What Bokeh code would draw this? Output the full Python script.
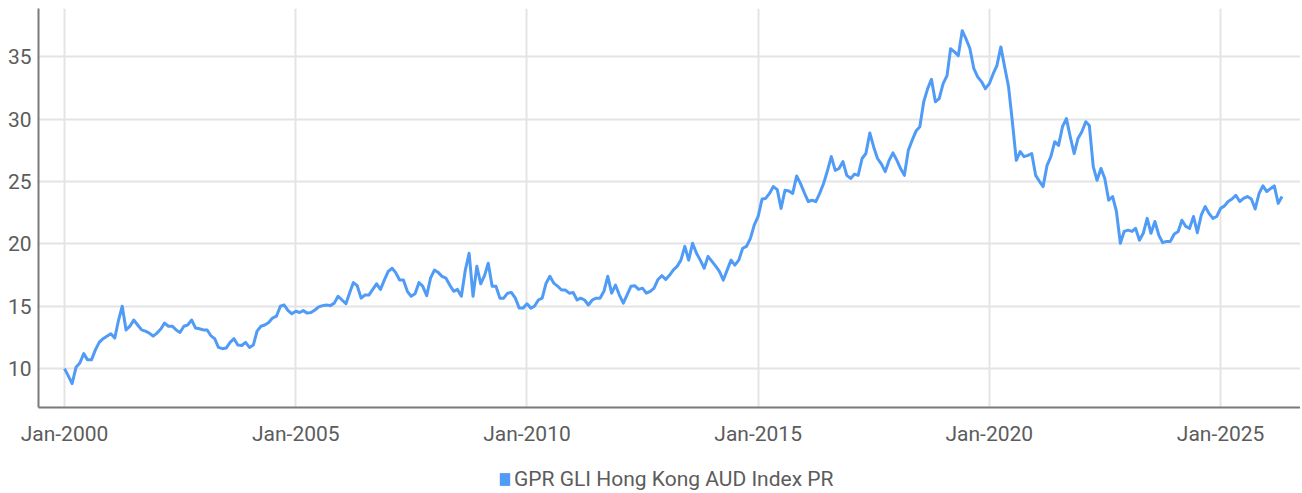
import pandas as pd
from bokeh.plotting import figure
from bokeh.layouts import column
from bokeh.models import (ColumnDataSource, Range1d, FixedTicker,
                          DatetimeTickFormatter, Legend, LegendItem)
from bokeh.embed import file_html
from bokeh.resources import INLINE

series_name = "GPR GLI Hong Kong AUD Index PR"
start_month = "2000-01-01"
y_ticks = [10, 15, 20, 25, 30, 35]
x_tick_years = [2000, 2005, 2010, 2015, 2020, 2025]

# monthly index levels
values_2000_2004 = [
    10.0, 9.4, 8.8, 10.1, 10.45, 11.2, 10.7, 10.7, 11.5, 12.1, 12.4, 12.6,
    12.8, 12.45, 13.8, 15.0, 13.1, 13.4, 13.9, 13.5, 13.1, 13.0, 12.85, 12.6,
    12.85, 13.2, 13.65, 13.4, 13.4, 13.1, 12.9, 13.4, 13.5, 13.9, 13.25, 13.2,
    13.1, 13.1, 12.65, 12.4, 11.7, 11.6, 11.65, 12.1, 12.4, 11.9, 11.85, 12.1,
    11.7, 11.9, 13.0, 13.4, 13.5, 13.7, 14.05, 14.2, 15.0, 15.1, 14.65, 14.4,
]
values_2005_2009 = [
    14.6, 14.5, 14.65, 14.45, 14.5, 14.7, 14.95, 15.05, 15.1, 15.05, 15.25, 15.8,
    15.5, 15.2, 16.05, 16.9, 16.65, 15.65, 15.9, 15.9, 16.35, 16.8, 16.35, 17.1,
    17.8, 18.05, 17.7, 17.1, 17.1, 16.2, 15.8, 16.0, 16.9, 16.6, 15.85, 17.25,
    17.9, 17.7, 17.4, 17.25, 16.7, 16.2, 16.35, 15.8, 17.9, 19.25, 15.8, 18.2,
    16.8, 17.5, 18.45, 16.6, 16.6, 15.65, 15.65, 16.05, 16.1, 15.65, 14.85, 14.85,
]
values_2010_2014 = [
    15.2, 14.85, 15.0, 15.5, 15.65, 16.85, 17.4, 16.85, 16.6, 16.3, 16.3, 16.05,
    16.1, 15.5, 15.65, 15.5, 15.1, 15.5, 15.65, 15.65, 16.2, 17.4, 16.05, 16.7,
    15.9, 15.25, 15.9, 16.6, 16.65, 16.35, 16.45, 16.05, 16.2, 16.45, 17.15, 17.45,
    17.15, 17.5, 17.9, 18.2, 18.7, 19.8, 18.7, 20.05, 19.25, 18.7, 18.05, 19.0,
    18.6, 18.2, 17.8, 17.1, 17.9, 18.7, 18.3, 18.7, 19.65, 19.8, 20.45, 21.5,
]
values_2015_2019 = [
    22.2, 23.6, 23.65, 24.05, 24.6, 24.35, 22.85, 24.3, 24.25, 24.05, 25.45, 24.85,
    24.1, 23.4, 23.5, 23.4, 24.05, 24.85, 25.85, 27.0, 25.9, 26.05, 26.6, 25.5,
    25.25, 25.6, 25.5, 26.85, 27.25, 28.9, 27.8, 26.85, 26.4, 25.8, 26.7, 27.3,
    26.7, 26.0, 25.5, 27.5, 28.3, 29.05, 29.4, 31.4, 32.45, 33.2, 31.4, 31.65,
    32.85, 33.5, 35.65, 35.4, 35.1, 37.1, 36.45, 35.65, 34.05, 33.4, 33.0, 32.45,
]
values_2020_2024 = [
    32.85, 33.65, 34.3, 35.8, 34.2, 32.6, 29.8, 26.7, 27.4, 27.0, 27.1, 27.25,
    25.5, 25.0, 24.6, 26.3, 27.0, 28.2, 27.9, 29.4, 30.05, 28.6, 27.25, 28.45,
    29.0, 29.8, 29.5, 26.2, 25.1, 26.05, 25.25, 23.5, 23.8, 22.6, 20.05, 21.0,
    21.1, 21.0, 21.25, 20.3, 20.85, 22.05, 20.85, 21.8, 20.7, 20.1, 20.2, 20.2,
    20.8, 21.0, 21.9, 21.4, 21.25, 22.2, 20.9, 22.3, 23.0, 22.45, 22.05, 22.2,
]
values_2025_2026 = [
    22.85, 23.05, 23.4, 23.6, 23.9, 23.4, 23.65, 23.8, 23.6, 22.8, 24.05, 24.65,
    24.2, 24.45, 24.65, 23.25, 23.8,
]

values = (values_2000_2004 + values_2005_2009 + values_2010_2014 +
          values_2015_2019 + values_2020_2024 + values_2025_2026)
dates = pd.date_range(start_month, periods=len(values), freq="MS")
source = ColumnDataSource(data=dict(date=dates, value=values))

BLUE = "#4f9bf6"
TEXT = "#5c5c5c"
AXIS = "#7a7a7a"
GRID = "#e4e4e4"
FONT = "Roboto"
FSIZE = "21px"

origin = pd.Timestamp(start_month)
x_start = origin - pd.Timedelta(days=205.4)
x_end = origin + pd.Timedelta(days=9763)

p = figure(width=1300, height=448, x_axis_type="datetime",
           x_range=Range1d(x_start, x_end), y_range=Range1d(6.88, 38.88),
           output_backend="svg", toolbar_location=None,
           min_border_left=38, min_border_right=0, min_border_top=8,
           min_border_bottom=40)
p.outline_line_color = None
p.background_fill_color = "white"
p.border_fill_color = "white"

line = p.line("date", "value", source=source, line_color=BLUE,
              line_width=3, line_join="round")

x_ticks = [pd.Timestamp(f"{y}-01-01").timestamp() * 1000 for y in x_tick_years]
p.xaxis.ticker = FixedTicker(ticks=x_ticks)
fmt = "%b-%Y"
p.xaxis.formatter = DatetimeTickFormatter(years=fmt, months=fmt, days=fmt,
                                          hours=fmt, minutes=fmt, seconds=fmt,
                                          milliseconds=fmt, microseconds=fmt)
p.yaxis.ticker = FixedTicker(ticks=y_ticks)

for ax in (p.xaxis, p.yaxis):
    ax.axis_line_color = AXIS
    ax.axis_line_width = 2
    ax.major_tick_line_color = None
    ax.minor_tick_line_color = None
    ax.major_tick_out = 0
    ax.major_tick_in = 0
    ax.minor_tick_out = 0
    ax.major_label_text_font = FONT
    ax.major_label_text_font_size = FSIZE
    ax.major_label_text_color = TEXT
p.xaxis.major_label_standoff = 14
p.yaxis.major_label_standoff = 7

p.xgrid.grid_line_color = GRID
p.xgrid.grid_line_width = 2
p.ygrid.grid_line_color = GRID
p.ygrid.grid_line_width = 2

# legend strip underneath the chart (no axes, frame = whole strip)
leg = figure(width=1300, height=44, x_range=Range1d(0, 1), y_range=Range1d(0, 1),
             x_axis_location=None, y_axis_location=None,
             output_backend="svg", toolbar_location=None,
             min_border=0, min_border_left=0, min_border_right=0,
             min_border_top=0, min_border_bottom=0)
leg.grid.visible = False
leg.outline_line_color = None
leg.background_fill_color = "white"
leg.border_fill_color = "white"
nan = float("nan")
swatch = leg.quad(left=[nan], right=[nan], top=[nan], bottom=[nan],
                  fill_color=BLUE, line_color=None)
legend = Legend(items=[LegendItem(label=series_name, renderers=[swatch])],
                location=(460, 1), orientation="horizontal",
                glyph_width=13, glyph_height=16, label_standoff=3,
                padding=0, margin=0, border_line_color=None,
                background_fill_alpha=0,
                label_text_font=FONT, label_text_font_size=FSIZE,
                label_text_color=TEXT)
leg.add_layout(legend, "center")

layout = column(p, leg, spacing=0)
open("out.html", "w").write(file_html(layout, INLINE))
